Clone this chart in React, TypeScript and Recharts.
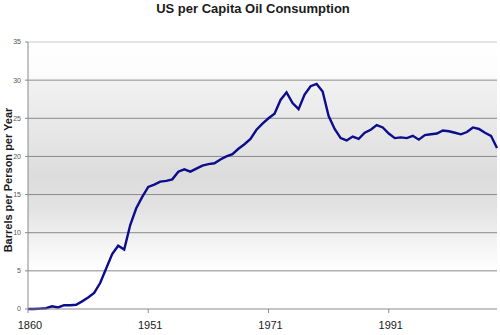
import React from "react";
import { LineChart, Line, XAxis, YAxis, CartesianGrid, ReferenceLine } from "recharts";

const years: string[] = [
  "1860", "1865", "1870", "1875", "1880", "1885", "1890", "1895", "1900", "1905",
  "1910", "1915", "1920", "1925", "1930", "1935", "1940", "1945", "1949", "1950",
  "1951", "1952", "1953", "1954", "1955", "1956", "1957", "1958", "1959", "1960",
  "1961", "1962", "1963", "1964", "1965", "1966", "1967", "1968", "1969", "1970",
  "1971", "1972", "1973", "1974", "1975", "1976", "1977", "1978", "1979", "1980",
  "1981", "1982", "1983", "1984", "1985", "1986", "1987", "1988", "1989", "1990",
  "1991", "1992", "1993", "1994", "1995", "1996", "1997", "1998", "1999", "2000",
  "2001", "2002", "2003", "2004", "2005", "2006", "2007", "2008", "2009",
];

const barrels: number[] = [
  0.0, 0.0, 0.05, 0.1, 0.35, 0.2, 0.5, 0.5, 0.55, 1.0,
  1.5, 2.1, 3.4, 5.3, 7.2, 8.3, 7.8, 11.0, 13.2, 14.7,
  16.0, 16.3, 16.7, 16.8, 17.0, 18.0, 18.3, 18.0, 18.4, 18.8,
  19.0, 19.1, 19.6, 20.0, 20.3, 21.0, 21.6, 22.3, 23.5, 24.3,
  25.0, 25.6, 27.4, 28.4, 27.0, 26.2, 28.1, 29.2, 29.5, 28.5,
  25.3, 23.6, 22.4, 22.1, 22.6, 22.3, 23.1, 23.5, 24.1, 23.8,
  23.0, 22.4, 22.5, 22.4, 22.7, 22.2, 22.8, 22.9, 23.0, 23.4,
  23.3, 23.1, 22.9, 23.2, 23.8, 23.6, 23.1, 22.7, 21.1,
];

const yTicks: number[] = [0, 5, 10, 15, 20, 25, 30, 35];
const gridValues: number[] = [5, 10, 15, 20, 25, 30];

const data = years.map((year, i) => ({ year, value: barrels[i] }));

const FONT = '"Liberation Sans", Arial, sans-serif';

export default function App() {
  return (
    <div style={{ position: "absolute", left: 0, top: 0, width: 500, height: 335, background: "#fff" }}>
      <div
        style={{
          position: "absolute",
          top: 1,
          left: 3,
          width: 500,
          textAlign: "center",
          fontFamily: FONT,
          fontWeight: "bold",
          fontSize: 13,
          color: "#1a1a1a",
        }}
      >
        US per Capita Oil Consumption
      </div>
      <div
        style={{
          position: "absolute",
          left: 8,
          top: 180,
          transform: "translate(-50%, -50%) rotate(-90deg)",
          whiteSpace: "nowrap",
          fontFamily: FONT,
          fontWeight: "bold",
          fontSize: 11,
          color: "#1a1a1a",
        }}
      >
        Barrels per Person per Year
      </div>
      <LineChart
        width={500}
        height={335}
        data={data}
        margin={{ top: 42, right: 3, bottom: 0, left: 0 }}
        style={{ position: "absolute", left: 0, top: 0 }}
      >
        <defs>
          <linearGradient id="plotBg" x1="0" y1="0" x2="0" y2="1">
            <stop offset="0%" stopColor="#ffffff" />
            <stop offset="13.5%" stopColor="#fbfbfb" />
            <stop offset="15%" stopColor="#f1f1f1" />
            <stop offset="35%" stopColor="#e6e6e6" />
            <stop offset="50%" stopColor="#dcdcdc" />
            <stop offset="62%" stopColor="#e2e2e2" />
            <stop offset="72%" stopColor="#efefef" />
            <stop offset="82%" stopColor="#fbfbfb" />
            <stop offset="86%" stopColor="#ffffff" />
            <stop offset="100%" stopColor="#ffffff" />
          </linearGradient>
        </defs>
        <CartesianGrid
          vertical={false}
          horizontalValues={gridValues}
          stroke="#8a8a8a"
          strokeWidth={1}
          fill="url(#plotBg)"
          fillOpacity={1}
        />
        <ReferenceLine y={35} stroke="#c8c8c8" strokeWidth={1} ifOverflow="visible" />
        <XAxis
          dataKey="year"
          interval={19}
          height={26}
          tickSize={4}
          tickMargin={8}
          dx={2}
          axisLine={{ stroke: "#8a8a8a" }}
          tickLine={{ stroke: "#8a8a8a" }}
          tick={{ fill: "#1a1a1a", fontSize: 11, fontFamily: FONT }}
        />
        <YAxis
          yAxisId={0}
          domain={[0, 35]}
          ticks={yTicks}
          width={28}
          tickSize={3}
          tickMargin={4}
          axisLine={{ stroke: "#8a8a8a" }}
          tickLine={{ stroke: "#8a8a8a" }}
          tick={{ fill: "#555", fontSize: 7, fontFamily: FONT }}
        />
        <YAxis
          yAxisId="right"
          orientation="right"
          domain={[0, 35]}
          width={0}
          tick={false}
          tickLine={false}
          axisLine={{ stroke: "#b0b0b0" }}
        />
        <Line
          type="linear"
          dataKey="value"
          stroke="#0c0c8c"
          strokeWidth={2.4}
          dot={false}
          activeDot={false}
          isAnimationActive={false}
        />
      </LineChart>
    </div>
  );
}
